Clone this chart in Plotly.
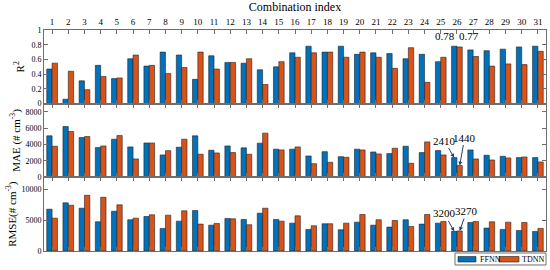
import plotly.graph_objects as go
from plotly.subplots import make_subplots

combos = list(range(1, 32))

r2_ffnn = [0.47, 0.06, 0.31, 0.52, 0.34, 0.61, 0.51, 0.70, 0.66, 0.33, 0.65, 0.56, 0.55, 0.46, 0.50,
           0.69, 0.78, 0.70, 0.78, 0.67, 0.69, 0.68, 0.61, 0.67, 0.57, 0.78, 0.73, 0.72, 0.74, 0.77, 0.78]
r2_tdnn = [0.55, 0.44, 0.19, 0.37, 0.35, 0.66, 0.52, 0.41, 0.49, 0.70, 0.47, 0.56, 0.61, 0.26, 0.57,
           0.63, 0.69, 0.70, 0.63, 0.70, 0.63, 0.48, 0.76, 0.29, 0.63, 0.77, 0.64, 0.51, 0.54, 0.53, 0.71]

mae_ffnn = [5070, 6200, 4860, 3630, 4660, 3720, 4200, 2740, 3680, 5070, 3310, 3840, 3600, 4170, 3440,
            3440, 2610, 3140, 2530, 3440, 3100, 2900, 3800, 3020, 3270, 2410, 3350, 2700, 2570, 2410, 2410]
mae_tdnn = [3800, 5600, 4980, 3840, 5100, 2250, 4200, 3260, 4660, 2820, 2980, 3020, 2820, 5400, 3350,
            3720, 1670, 1840, 2450, 3350, 2860, 3560, 1720, 4330, 2740, 1440, 2250, 2120, 2370, 2490, 1880]

rmse_ffnn = [6810, 7840, 6970, 4760, 6480, 5090, 5620, 3680, 4860, 6600, 4210, 5300, 5140, 6160, 5140,
             4540, 3520, 4440, 3460, 4700, 4210, 3890, 5090, 4380, 4540, 3200, 4650, 3730, 3520, 3350, 3190]
rmse_tdnn = [5350, 7460, 9080, 8750, 7520, 5350, 5900, 5840, 6540, 4380, 4490, 5250, 4280, 6970, 4860,
             5730, 4110, 4440, 4540, 5950, 5090, 4970, 4000, 5950, 4810, 3270, 4810, 4760, 4700, 4650, 3680]

model_names = ['FFNN', 'TDNN']
blue = '#0072BD'
orange = '#D95319'
font = 'Liberation Serif'
axcol = '#6e6e6e'

fig = make_subplots(rows=3, cols=1, shared_xaxes=True, vertical_spacing=0)

panels = [(r2_ffnn, r2_tdnn), (mae_ffnn, mae_tdnn), (rmse_ffnn, rmse_tdnn)]
for i, (f, t) in enumerate(panels):
    fig.add_trace(go.Bar(x=combos, y=f, name=model_names[0], marker_color=blue,
                         marker_line=dict(color='#222', width=0.6)), row=i+1, col=1)
    fig.add_trace(go.Bar(x=combos, y=t, name=model_names[1], marker_color=orange,
                         marker_line=dict(color='#222', width=0.6)), row=i+1, col=1)

for r in range(1, 4):
    fig.update_xaxes(range=[0.5, 31.5], tickmode='array', tickvals=combos, ticks='inside', ticklen=4,
                     tickcolor=axcol, showline=True, linecolor=axcol, linewidth=1, mirror='ticks',
                     showgrid=False, showticklabels=False, row=r, col=1)
fig.update_xaxes(side='top', showticklabels=True, ticktext=[str(c) for c in combos],
                 tickfont=dict(size=9), title=dict(text='Combination index', font=dict(size=12), standoff=4),
                 row=1, col=1)

fig.update_yaxes(ticks='inside', ticklen=4, tickcolor=axcol, showline=True, linecolor=axcol, linewidth=1,
                 mirror='ticks', showgrid=False, zeroline=False, tickfont=dict(size=8))
fig.update_yaxes(range=[0, 1], dtick=0.2, title=dict(text='R<sup>2</sup>', font=dict(size=11), standoff=4),
                 row=1, col=1)
fig.update_yaxes(range=[0, 9000], tickvals=[0, 2000, 4000, 6000, 8000], tickformat='d',
                 title=dict(text='MAE (# cm<sup>-3</sup>)', font=dict(size=11), standoff=2), row=2, col=1)
fig.update_yaxes(range=[0, 12000], tickvals=[0, 5000, 10000], tickformat='d',
                 title=dict(text='RMSE(# cm<sup>-3</sup>)', font=dict(size=11), standoff=2), row=3, col=1)

k = combos.index(26)
fig.add_annotation(x=26, y=r2_ffnn[k], xref='x', yref='y', text=f'{r2_ffnn[k]:.2f}', showarrow=False,
                   xanchor='right', yanchor='bottom', yshift=2, font=dict(size=11, family=font))
fig.add_annotation(x=26, y=r2_tdnn[k], xref='x', yref='y', text=f'{r2_tdnn[k]:.2f}', showarrow=False,
                   xanchor='left', yanchor='bottom', yshift=3, font=dict(size=11, family=font))
fig.add_annotation(x=25.83, y=mae_ffnn[k], xref='x2', yref='y2', text=str(mae_ffnn[k]), showarrow=True,
                   arrowhead=2, arrowsize=0.8, arrowwidth=1, ax=-10, ay=-17, font=dict(size=11, family=font))
fig.add_annotation(x=26.17, y=mae_tdnn[k], xref='x2', yref='y2', text=str(mae_tdnn[k]), showarrow=True,
                   arrowhead=2, arrowsize=0.8, arrowwidth=1, ax=5, ay=-28, font=dict(size=11, family=font))
fig.add_annotation(x=25.83, y=rmse_ffnn[k], xref='x3', yref='y3', text=str(rmse_ffnn[k]), showarrow=True,
                   arrowhead=2, arrowsize=0.8, arrowwidth=1, ax=-10, ay=-18, font=dict(size=11, family=font))
fig.add_annotation(x=26.17, y=rmse_tdnn[k], xref='x3', yref='y3', text=str(rmse_tdnn[k]), showarrow=True,
                   arrowhead=2, arrowsize=0.8, arrowwidth=1, ax=7, ay=-20, font=dict(size=11, family=font))

# hand-drawn legend box under the bottom panel (plotly's own legend is too tall here)
fig.add_shape(type='rect', xref='paper', yref='paper', x0=0.8187, x1=1.0, y0=-0.0633, y1=-0.009,
              line=dict(color=axcol, width=1), fillcolor='white')
for x0, x1, col, tx, name in [(0.8247, 0.8606, blue, 0.8645, model_names[0]),
                              (0.9064, 0.9462, orange, 0.9482, model_names[1])]:
    fig.add_shape(type='rect', xref='paper', yref='paper', x0=x0, x1=x1, y0=-0.0498, y1=-0.0249,
                  line=dict(color='#222', width=0.6), fillcolor=col)
    fig.add_annotation(x=tx, y=-0.037, xref='paper', yref='paper', text=name, showarrow=False,
                       xanchor='left', yanchor='middle', font=dict(size=8, family=font))

fig.update_layout(
    width=550, height=270,
    margin=dict(l=44, r=4, t=30, b=19),
    barmode='group', bargap=0.34, bargroupgap=0,
    plot_bgcolor='white', paper_bgcolor='white',
    font=dict(family=font, size=10, color='black'),
    showlegend=False,
)

# the page body has a default 8px margin, drop it so the chart sits at the window corner
fig.write_html("out.html", config={'displayModeBar': False},
               post_script="document.body.style.margin='0px';")
